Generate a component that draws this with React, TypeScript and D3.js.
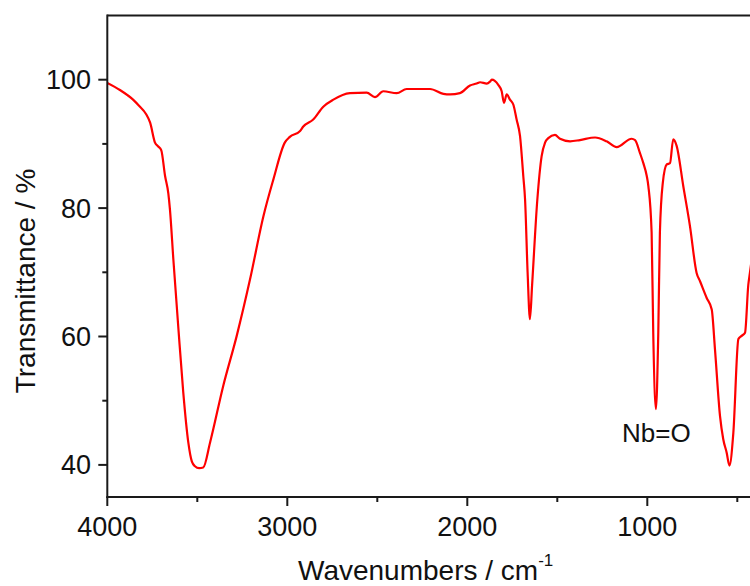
import React from "react";
import * as d3 from "d3";

const wavenumbers: number[] = [
  4000, 3930, 3857, 3829, 3762, 3735, 3717, 3700, 3679, 3661, 3652, 3633, 3606, 3578, 3550, 3530, 3513, 3490, 3467,
  3429, 3356, 3281, 3207, 3133, 3078, 3014, 2986, 2929, 2911, 2856, 2800, 2744, 2652, 2559, 2513, 2467,
  2392, 2337, 2207, 2133, 2096, 2041, 1985, 1948, 1929, 1892, 1874, 1864, 1828, 1809, 1796, 1781, 1763,
  1744, 1726, 1707, 1689, 1679, 1665, 1652, 1640, 1611, 1587, 1568, 1550, 1513, 1485, 1429, 1374, 1290,
  1226, 1170, 1087, 1068, 1041, 1022, 1003, 994, 976, 967, 952, 939, 930, 914, 892, 874, 856, 837, 800,
  763, 726, 707, 670, 642, 624, 596, 578, 559, 544, 522, 494, 476, 457, 439, 430, 410,
];
const transmittance: number[] = [
  99.5, 98.4, 96.9, 96.1, 93.3, 90.2, 89.6, 89.0, 85.0, 82.3, 79.8, 72.0, 61.6, 51.3, 43.5, 40.5, 39.8, 39.5, 39.6,
  43.5, 52.3, 60.1, 68.9, 78.7, 84.4, 90.2, 91.1, 92.0, 92.7, 93.8, 95.8, 96.9, 97.9, 98.0, 97.3, 98.2,
  97.9, 98.55, 98.55, 97.8, 97.7, 97.9, 99.1, 99.4, 99.6, 99.4, 99.7, 100.0, 99.2, 98.2, 96.4, 97.7, 96.9,
  96.1, 93.8, 91.2, 85.0, 81.3, 70.0, 62.7, 68.0, 81.3, 88.1, 90.2, 90.9, 91.4, 90.8, 90.4, 90.6, 91.0,
  90.4, 89.5, 90.8, 90.6, 88.6, 87.0, 85.0, 83.4, 76.2, 60.6, 48.7, 60.6, 76.2, 83.9, 86.8, 87.0, 90.7, 89.7, 83.4,
  77.2, 69.9, 68.6, 66.0, 64.2, 58.0, 47.6, 44.0, 41.9, 39.9, 45.0, 59.6, 60.1, 60.6, 68.0, 69.9, 74.0,
];

const xMajorTicks: number[] = [4000, 3000, 2000, 1000];
const xMinorTicks: number[] = [3500, 2500, 1500, 500];
const yMajorTicks: number[] = [40, 60, 80, 100];
const yMinorTicks: number[] = [50, 70, 90];
const xDomain: [number, number] = [4000, 400];
const yDomain: [number, number] = [35, 110];
const annotationText = "Nb=O";
const annotationPos: [number, number] = [1140, 43.5];

export default function App() {
  const W = 750;
  const H = 586;
  const left = 107.3;
  const right = 755.3;
  const top = 15.5;
  const bottom = 497;
  const x = d3.scaleLinear().domain(xDomain).range([left, right]);
  const y = d3.scaleLinear().domain(yDomain).range([bottom, top]);
  const pts = wavenumbers.map((w, i) => [w, transmittance[i]] as [number, number]);
  const line = d3
    .line<[number, number]>()
    .x((d) => x(d[0]))
    .y((d) => y(d[1]))
    .curve(d3.curveMonotoneX);
  const font = "'Liberation Sans', Arial, sans-serif";
  const axisColor = "#1a1a1a";
  return (
    <svg
      width={W}
      height={H}
      style={{ position: "absolute", left: 0, top: 0, background: "#fff" }}
      fontFamily={font}
    >
      <defs>
        <clipPath id="plotclip">
          <rect x={left} y={top} width={right - left} height={bottom - top} />
        </clipPath>
      </defs>
      <rect x={0} y={0} width={W} height={H} fill="#fff" />
      <path
        d={line(pts) || ""}
        fill="none"
        stroke="#ff0000"
        strokeWidth={2.2}
        strokeLinejoin="round"
        clipPath="url(#plotclip)"
      />
      <line x1={left} x2={right + 10} y1={top} y2={top} stroke={axisColor} strokeWidth={2} />
      <line x1={left} x2={left} y1={top - 1} y2={bottom + 1} stroke={axisColor} strokeWidth={2} />
      <line x1={left - 1} x2={right + 10} y1={bottom} y2={bottom} stroke={axisColor} strokeWidth={2} />
      {xMajorTicks.map((t) => (
        <g key={"xM" + t}>
          <line x1={x(t)} x2={x(t)} y1={bottom} y2={bottom + 9} stroke={axisColor} strokeWidth={2} />
          <text x={x(t)} y={536} textAnchor="middle" fontSize={27} fill="#111">
            {t}
          </text>
        </g>
      ))}
      {xMinorTicks.map((t) => (
        <line key={"xm" + t} x1={x(t)} x2={x(t)} y1={bottom} y2={bottom + 5} stroke={axisColor} strokeWidth={2} />
      ))}
      {yMajorTicks.map((t) => (
        <g key={"yM" + t}>
          <line x1={left} x2={left - 9} y1={y(t)} y2={y(t)} stroke={axisColor} strokeWidth={2} />
          <text x={91} y={y(t) + 9.5} textAnchor="end" fontSize={27} fill="#111">
            {t}
          </text>
        </g>
      ))}
      {yMinorTicks.map((t) => (
        <line key={"ym" + t} x1={left} x2={left - 5} y1={y(t)} y2={y(t)} stroke={axisColor} strokeWidth={2} />
      ))}
      <text x={298} y={580} fontSize={28} fill="#111">
        Wavenumbers / cm
        <tspan dy={-14} fontSize={17}>
          -1
        </tspan>
      </text>
      <text
        transform={`translate(35, ${281}) rotate(-90)`}
        textAnchor="middle"
        fontSize={28}
        fill="#111"
      >
        Transmittance / %
      </text>
      <text x={x(annotationPos[0])} y={y(annotationPos[1])} fontSize={26} fill="#111" textAnchor="start">
        {annotationText}
      </text>
    </svg>
  );
}
